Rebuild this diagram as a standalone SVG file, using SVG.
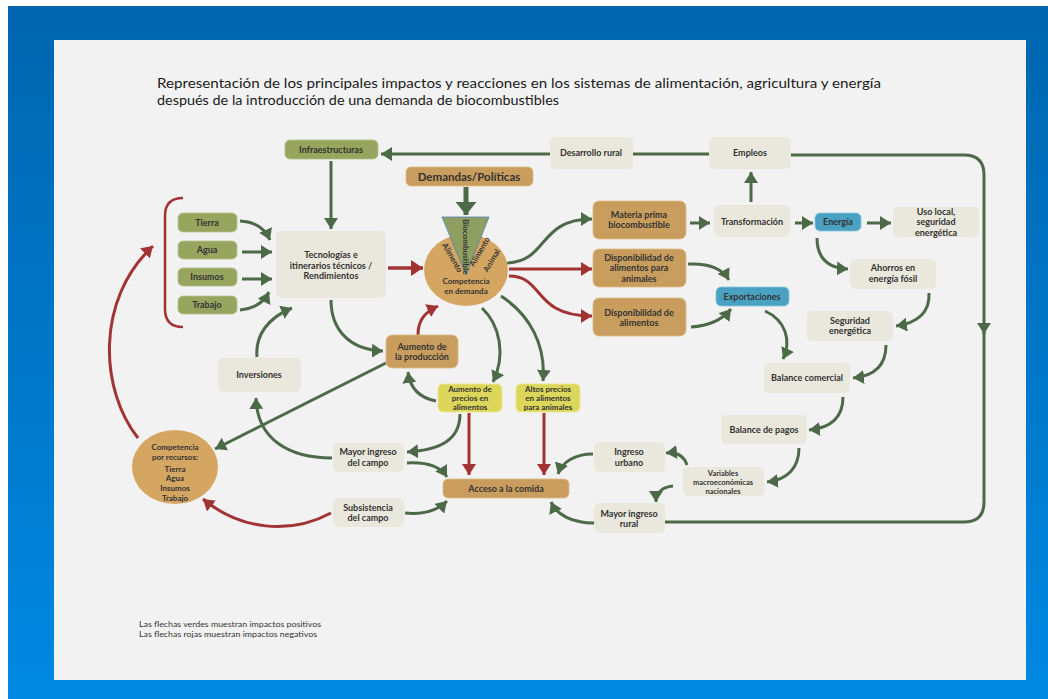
<svg xmlns="http://www.w3.org/2000/svg" width="1048" height="699" viewBox="0 0 1048 699">
<defs>
<linearGradient id="bg" x1="0" y1="0" x2="0" y2="1">
<stop offset="0" stop-color="#0065ae"/>
<stop offset="0.5" stop-color="#0077c8"/>
<stop offset="1" stop-color="#0088e2"/>
</linearGradient>
<marker id="ag" viewBox="0 0 10 10" refX="10" refY="5" markerUnits="userSpaceOnUse" markerWidth="11" markerHeight="14" orient="auto" preserveAspectRatio="none"><path d="M0,0 L10,5 L0,10 z" fill="#4d6a48"/></marker>
<marker id="ar" viewBox="0 0 10 10" refX="10" refY="5" markerUnits="userSpaceOnUse" markerWidth="11" markerHeight="14" orient="auto" preserveAspectRatio="none"><path d="M0,0 L10,5 L0,10 z" fill="#a23333"/></marker>
<marker id="agb" viewBox="0 0 10 10" refX="10" refY="5" markerUnits="userSpaceOnUse" markerWidth="13" markerHeight="21" orient="auto" preserveAspectRatio="none"><path d="M0,0 L10,5 L0,10 z" fill="#4d6a48"/></marker>
<marker id="arb" viewBox="0 0 10 10" refX="10" refY="5" markerUnits="userSpaceOnUse" markerWidth="12" markerHeight="16" orient="auto" preserveAspectRatio="none"><path d="M0,0 L10,5 L0,10 z" fill="#a23333"/></marker>
</defs>
<style>
.t{font-family:Lato,"Open Sans","Liberation Sans",sans-serif;font-weight:bold;font-size:9px;fill:#333333;text-anchor:middle}
.s{font-size:8px}
.xs{font-size:7.5px}
.rot{font-size:8px}
.olive{fill:#97a55e;stroke:#b7c08a;stroke-width:0.8}
.light{fill:#eae8dc}
.tan{fill:#c99d5d;stroke:#dcbb86;stroke-width:0.8}
.yel{fill:#dcd75a;stroke:#ece88e;stroke-width:0.8}
.teal{fill:#4aa2c2;stroke:#8ac6dc;stroke-width:0.8}
.g{fill:none;stroke:#4d6a48;stroke-width:3;marker-end:url(#ag)}
.gl{fill:none;stroke:#4d6a48;stroke-width:3}
.r{fill:none;stroke:#a23333;stroke-width:3;marker-end:url(#ar)}
.rl{fill:none;stroke:#a23333;stroke-width:2.5}
.title{font-family:Lato,"Open Sans","Liberation Sans",sans-serif;font-size:13px;fill:#1a1a1a}
.leg{font-family:Lato,"Open Sans","Liberation Sans",sans-serif;font-size:7.5px;fill:#333}
</style>
<rect x="0" y="0" width="1048" height="699" fill="#ffffff"/>
<rect x="8" y="6" width="1040" height="693" fill="url(#bg)"/>
<rect x="54" y="40" width="972" height="640" fill="#f2f2f2"/>

<text class="title" x="157" y="88" textLength="724" lengthAdjust="spacingAndGlyphs">Representación de los principales impactos y reacciones en los sistemas de alimentación, agricultura y energía</text>
<text class="title" x="157" y="105" textLength="402" lengthAdjust="spacingAndGlyphs">después de la introducción de una demanda de biocombustibles</text>

<g id="connectors">
<path class="g" d="M331,161 L331,229"/>
<path class="gl" d="M709,154 L633,154"/>
<path class="g" d="M550,154 L381,154"/>
<path class="g" d="M790,155 L964,155 Q984,155 984,175 L984,334"/>
<path class="gl" d="M984,330 L984,502 Q984,522 964,522 L665,522"/>
<path class="g" d="M594,523 C572,523 557,515 551,502"/>
<path class="g" d="M240,221 Q262,222 270,240"/>
<path class="g" d="M242,252 L272,252"/>
<path class="g" d="M242,279 L272,279"/>
<path class="g" d="M240,310 Q261,308 269,292"/>
<path fill="none" stroke="#4d6a48" stroke-width="5" marker-end="url(#agb)" d="M466,187 L466,215"/>
<path fill="none" stroke="#a23333" stroke-width="3.5" marker-end="url(#arb)" d="M388,268 L423,268"/>
<path class="g" d="M507,263 C548,262 538,219 592,219"/>
<path class="r" d="M509,269 L592,269"/>
<path class="r" d="M509,276 C545,276 532,316 592,316"/>
<path class="g" d="M690,223 L710,223"/>
<path class="g" d="M751,202 L751,172"/>
<path class="g" d="M795,223 L813,223"/>
<path class="g" d="M867,223 L891,223"/>
<path class="g" d="M817,238 C817,258 828,268 848,269"/>
<path class="g" d="M688,264 C708,263 722,268 729,280"/>
<path class="g" d="M691,327 C708,326 722,320 731,309"/>
<path class="g" d="M765,311 C785,320 792,340 783,359"/>
<path class="g" d="M929,293 C930,312 918,323 896,326"/>
<path class="g" d="M886,345 C886,365 875,376 853,378"/>
<path class="g" d="M843,397 C843,418 830,428 809,430"/>
<path class="g" d="M799,448 C799,468 787,480 767,482"/>
<path class="g" d="M687,465 C684,456 677,452 666,453"/>
<path class="g" d="M673,486 C662,487 656,493 656,502"/>
<path class="g" d="M593,454 C575,454 562,462 558,474"/>
<path class="g" d="M482,308 C500,325 506,355 493,382"/>
<path class="g" d="M501,296 C530,315 546,345 543,381"/>
<path class="g" d="M436,401 C420,398 410,388 408,372"/>
<path class="r" d="M418,335 C418,320 425,312 438,306"/>
<path class="g" d="M331,300 C331,330 350,350 383,351"/>
<path class="g" d="M257,357 C255,335 268,318 292,308"/>
<path class="g" d="M332,458 C290,458 257,440 256,398"/>
<path class="g" d="M386,363 L215,449"/>
<path class="g" d="M460,414 C460,440 440,450 407,452"/>
<path class="g" d="M407,463 C425,462 440,466 447,477"/>
<path class="g" d="M405,513 C425,515 438,510 447,501"/>
<path class="r" d="M331,513 C290,535 240,530 203,499"/>
<path class="r" d="M138,438 C100,390 95,300 153,246"/>
<path class="r" d="M469,413 L469,475"/>
<path class="r" d="M544,413 L544,475"/>
<path class="rl" d="M183,198 Q165,198 165,216 L165,309 Q165,327 183,327"/>
</g>

<g id="infraestructuras"><rect class="olive" x="285" y="140" width="93" height="19" rx="5"/><text class="t" x="331" y="153">Infraestructuras</text></g>
<g id="tierra"><rect class="olive" x="178" y="213" width="59" height="19" rx="5"/><text class="t" x="207" y="226">Tierra</text></g>
<g id="agua"><rect class="olive" x="178" y="241" width="59" height="18" rx="5"/><text class="t" x="207" y="253">Agua</text></g>
<g id="insumos"><rect class="olive" x="178" y="268" width="59" height="18" rx="5"/><text class="t" x="207" y="280">Insumos</text></g>
<g id="trabajo"><rect class="olive" x="178" y="296" width="59" height="18" rx="5"/><text class="t" x="207" y="308">Trabajo</text></g>
<g id="tecnologias"><rect class="light" x="276" y="231" width="110" height="67" rx="5"/><text class="t" x="331" y="258">Tecnologías e</text><text class="t" x="331" y="269">itinerarios técnicos /</text><text class="t" x="331" y="279">Rendimientos</text></g>
<g id="demandas"><rect class="tan" x="406" y="167" width="127" height="19" rx="5"/><text class="t" x="469" y="181" style="font-size:11.5px">Demandas/Políticas</text></g>

<g id="competencia-demanda">
<ellipse cx="466" cy="270" rx="42" ry="36" fill="#d5a562"/>
<polygon points="442,217 489,217 466,275" fill="#8f9f62" stroke="#4f81bd" stroke-width="0.8"/>
<text class="t rot" transform="translate(463,219) rotate(90)" style="text-anchor:start">Biocombustible</text>
<text class="t rot" transform="translate(450,259) rotate(60)">Alimento</text>
<text class="t rot" transform="translate(482,253) rotate(-60)">Alimento</text>
<text class="t rot" transform="translate(494,262) rotate(-60)">Animal</text>
<text class="t s" x="466" y="284">Competencia</text>
<text class="t s" x="466" y="294">en demanda</text>
</g>

<g id="desarrollo-rural"><rect class="light" x="550" y="137" width="83" height="32" rx="5"/><text class="t" x="591" y="156">Desarrollo rural</text></g>
<g id="empleos"><rect class="light" x="709" y="137" width="82" height="32" rx="5"/><text class="t" x="750" y="156">Empleos</text></g>
<g id="materia-prima"><rect class="tan" x="593" y="201" width="93" height="38" rx="6"/><text class="t" x="639" y="218">Materia prima</text><text class="t" x="639" y="228">biocombustible</text></g>
<g id="disp-animales"><rect class="tan" x="593" y="249" width="93" height="38" rx="6"/><text class="t" x="639" y="261">Disponibilidad de</text><text class="t" x="639" y="271">alimentos para</text><text class="t" x="639" y="282">animales</text></g>
<g id="disp-alimentos"><rect class="tan" x="593" y="298" width="93" height="38" rx="6"/><text class="t" x="639" y="316">Disponibilidad de</text><text class="t" x="639" y="326">alimentos</text></g>
<g id="transformacion"><rect class="light" x="714" y="205" width="76" height="32" rx="5"/><text class="t" x="752" y="225">Transformación</text></g>
<g id="energia"><rect class="teal" x="815" y="213" width="46" height="18" rx="5"/><text class="t" x="838" y="225">Energía</text></g>
<g id="uso-local"><rect class="light" x="893" y="207" width="86" height="30" rx="5"/><text class="t" x="936" y="215">Uso local,</text><text class="t" x="936" y="225">seguridad</text><text class="t" x="936" y="236">energética</text></g>
<g id="ahorros"><rect class="light" x="850" y="259" width="86" height="30" rx="5"/><text class="t" x="893" y="271">Ahorros en</text><text class="t" x="893" y="282">energía fósil</text></g>
<g id="exportaciones"><rect class="teal" x="716" y="287" width="73" height="19" rx="5"/><text class="t" x="752" y="300">Exportaciones</text></g>
<g id="seguridad"><rect class="light" x="807" y="311" width="86" height="30" rx="5"/><text class="t" x="850" y="324">Seguridad</text><text class="t" x="850" y="334">energética</text></g>
<g id="balance-comercial"><rect class="light" x="764" y="363" width="86" height="30" rx="5"/><text class="t" x="807" y="381">Balance comercial</text></g>
<g id="balance-pagos"><rect class="light" x="721" y="415" width="86" height="29" rx="5"/><text class="t" x="764" y="433">Balance de pagos</text></g>
<g id="variables"><rect class="light" x="683" y="467" width="81" height="29" rx="5"/><text class="t xs" x="723" y="475.5">Variables</text><text class="t xs" x="723" y="485">macroeconómicas</text><text class="t xs" x="723" y="494">nacionales</text></g>
<g id="ingreso-urbano"><rect class="light" x="594" y="442" width="71" height="30" rx="5"/><text class="t" x="629" y="455">Ingreso</text><text class="t" x="629" y="466">urbano</text></g>
<g id="mayor-ingreso-rural"><rect class="light" x="594" y="503" width="71" height="30" rx="5"/><text class="t" x="629" y="517">Mayor ingreso</text><text class="t" x="629" y="527">rural</text></g>
<g id="acceso"><rect class="tan" x="443" y="479" width="126" height="19" rx="5"/><text class="t" x="506" y="492">Acceso a la comida</text></g>
<g id="aumento-precios"><rect class="yel" x="438" y="384" width="64" height="28" rx="5"/><text class="t s" x="470" y="392">Aumento de</text><text class="t s" x="470" y="401">precios en</text><text class="t s" x="470" y="410">alimentos</text></g>
<g id="altos-precios"><rect class="yel" x="516" y="384" width="64" height="28" rx="5"/><text class="t s" x="548" y="392">Altos precios</text><text class="t s" x="548" y="401">en alimentos</text><text class="t s" x="548" y="410">para animales</text></g>
<g id="aumento-produccion"><rect class="tan" x="386" y="335" width="72" height="33" rx="6"/><text class="t" x="422" y="350">Aumento de</text><text class="t" x="422" y="360">la producción</text></g>
<g id="inversiones"><rect class="light" x="218" y="358" width="83" height="34" rx="5"/><text class="t" x="259" y="378">Inversiones</text></g>
<g id="mayor-ingreso-campo"><rect class="light" x="333" y="443" width="71" height="29" rx="5"/><text class="t" x="368" y="455">Mayor ingreso</text><text class="t" x="368" y="466">del campo</text></g>
<g id="subsistencia"><rect class="light" x="333" y="498" width="71" height="29" rx="5"/><text class="t" x="368" y="511">Subsistencia</text><text class="t" x="368" y="521">del campo</text></g>
<g id="competencia-recursos"><ellipse cx="175" cy="467" rx="43" ry="37" fill="#d5a562"/><text class="t s" x="175" y="450">Competencia</text><text class="t s" x="175" y="460">por recursos:</text><text class="t s" x="175" y="472">Tierra</text><text class="t s" x="175" y="481">Agua</text><text class="t s" x="175" y="491">Insumos</text><text class="t s" x="175" y="501">Trabajo</text></g>

<text class="leg" x="139" y="627" textLength="182" lengthAdjust="spacingAndGlyphs">Las flechas verdes muestran impactos positivos</text>
<text class="leg" x="139" y="637" textLength="178" lengthAdjust="spacingAndGlyphs">Las flechas rojas muestran impactos negativos</text>
</svg>
